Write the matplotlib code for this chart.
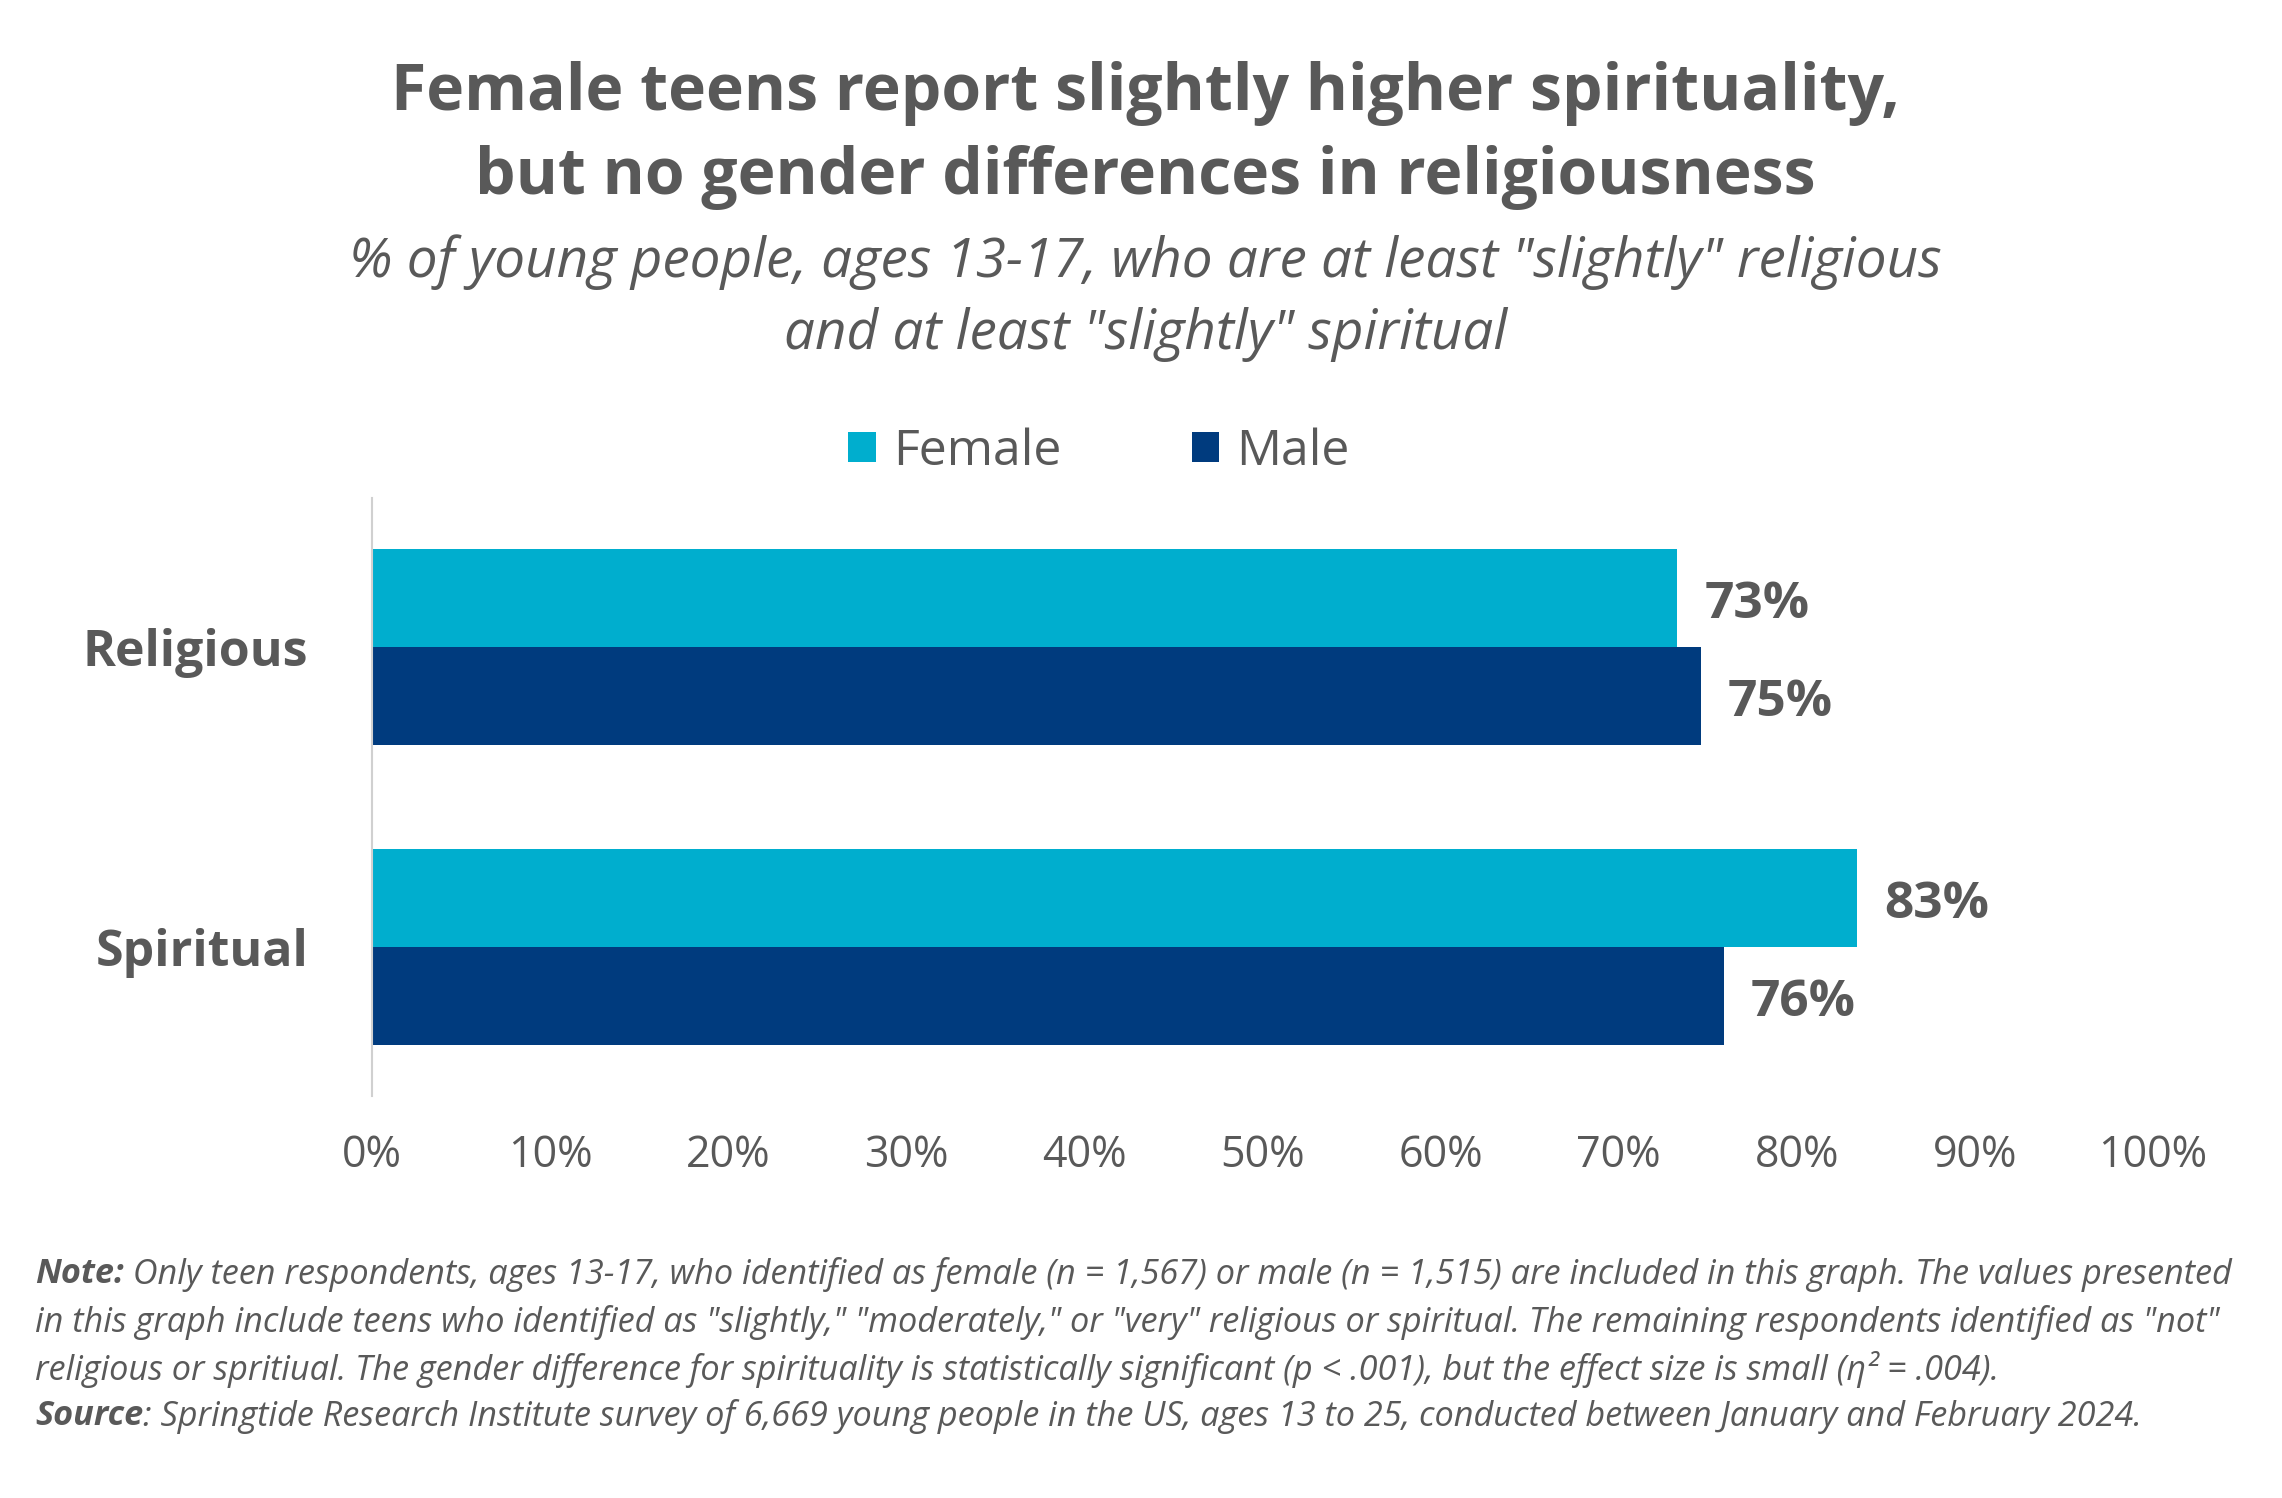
import numpy as np
import matplotlib.pyplot as plt

categories = ['Religious', 'Spiritual']
female = [73.3, 83.4]
male = [74.6, 75.9]
female_labels = ['73%', '83%']
male_labels = ['75%', '76%']
ticks = [0, 10, 20, 30, 40, 50, 60, 70, 80, 90, 100]

FEMALE_C = '#00AECE'
MALE_C = '#003B7E'
GREY = '#595959'

plt.rcParams['font.family'] = ['Open Sans', 'DejaVu Sans']

W, H = 2282, 1498
fig = plt.figure(figsize=(W / 100, H / 100), dpi=100)
ax = fig.add_axes([372 / W, 1 - 1096 / H, (2153 - 372) / W, 598 / H])

y = np.arange(len(categories))
h = 0.327
ax.barh(y - h / 2, female, height=h, color=FEMALE_C, label='Female')
ax.barh(y + h / 2, male, height=h, color=MALE_C, label='Male')

dy = 0.022  # nudge value labels a bit lower, like the original
for i in range(len(categories)):
    ax.text(female[i] + 1.5, y[i] - h / 2 + dy, female_labels[i], va='center', ha='left',
            fontsize=37, fontweight='bold', color=GREY)
    ax.text(male[i] + 1.5, y[i] + h / 2 + dy, male_labels[i], va='center', ha='left',
            fontsize=37, fontweight='bold', color=GREY)

ax.set_xlim(0, 100)
ax.set_ylim(1.497, -0.497)
ax.set_xticks(ticks)
ax.set_xticklabels([f'{t}%' for t in ticks], fontsize=31, color=GREY)
ax.set_yticks(y)
ax.set_yticklabels(categories, fontsize=36, fontweight='bold', color=GREY)
ax.tick_params(axis='both', length=0)
ax.tick_params(axis='x', pad=27)
ax.tick_params(axis='y', pad=46)
for s in ['top', 'right', 'bottom']:
    ax.spines[s].set_visible(False)
ax.spines['left'].set_color('#D0D0D0')
ax.spines['left'].set_linewidth(1.5)

ax.legend(loc='center', bbox_to_anchor=(1099 / W, 1 - 452 / H), bbox_transform=fig.transFigure,
          ncol=2, frameon=False, fontsize=36, handlelength=0.55, handleheight=0.55,
          handletextpad=0.35, columnspacing=2.6, labelcolor=GREY)

fig.text(0.502, 1 - 94 / H, 'Female teens report slightly higher spirituality,',
         ha='center', va='center', fontsize=46.3, fontweight='bold', color=GREY)
fig.text(0.502, 1 - 177 / H, 'but no gender differences in religiousness',
         ha='center', va='center', fontsize=46.3, fontweight='bold', color=GREY)
fig.text(0.502, 1 - 262 / H, '% of young people, ages 13-17, who are at least "slightly" religious',
         ha='center', va='center', fontsize=39.4, style='italic', color=GREY)
fig.text(0.502, 1 - 335 / H, 'and at least "slightly" spiritual',
         ha='center', va='center', fontsize=39.4, style='italic', color=GREY)

# notes with a bold lead word on first and last line
renderer = fig.canvas.get_renderer()
x0 = 35 / W
note_size = 24.7
lines = [
    ('Note:', ' Only teen respondents, ages 13-17, who identified as female (n = 1,567) or male (n = 1,515) are included in this graph. The values presented'),
    ('', 'in this graph include teens who identified as "slightly," "moderately," or "very" religious or spiritual. The remaining respondents identified as "not"'),
    ('', 'religious or spritiual. The gender difference for spirituality is statistically significant (p < .001), but the effect size is small (η² = .004).'),
    ('Source', ': Springtide Research Institute survey of 6,669 young people in the US, ages 13 to 25, conducted between January and February 2024.'),
]
ys = [1274, 1322, 1369, 1416]
for (lead, rest), yy in zip(lines, ys):
    xx = x0
    if lead:
        t = fig.text(xx, 1 - yy / H, lead, ha='left', va='center', fontsize=note_size,
                     style='italic', fontweight='bold', color=GREY)
        bb = t.get_window_extent(renderer=renderer)
        xx = bb.x1 / W
    fig.text(xx, 1 - yy / H, rest, ha='left', va='center', fontsize=note_size,
             style='italic', color=GREY)

fig.savefig('out.png', dpi=100, facecolor='white')
